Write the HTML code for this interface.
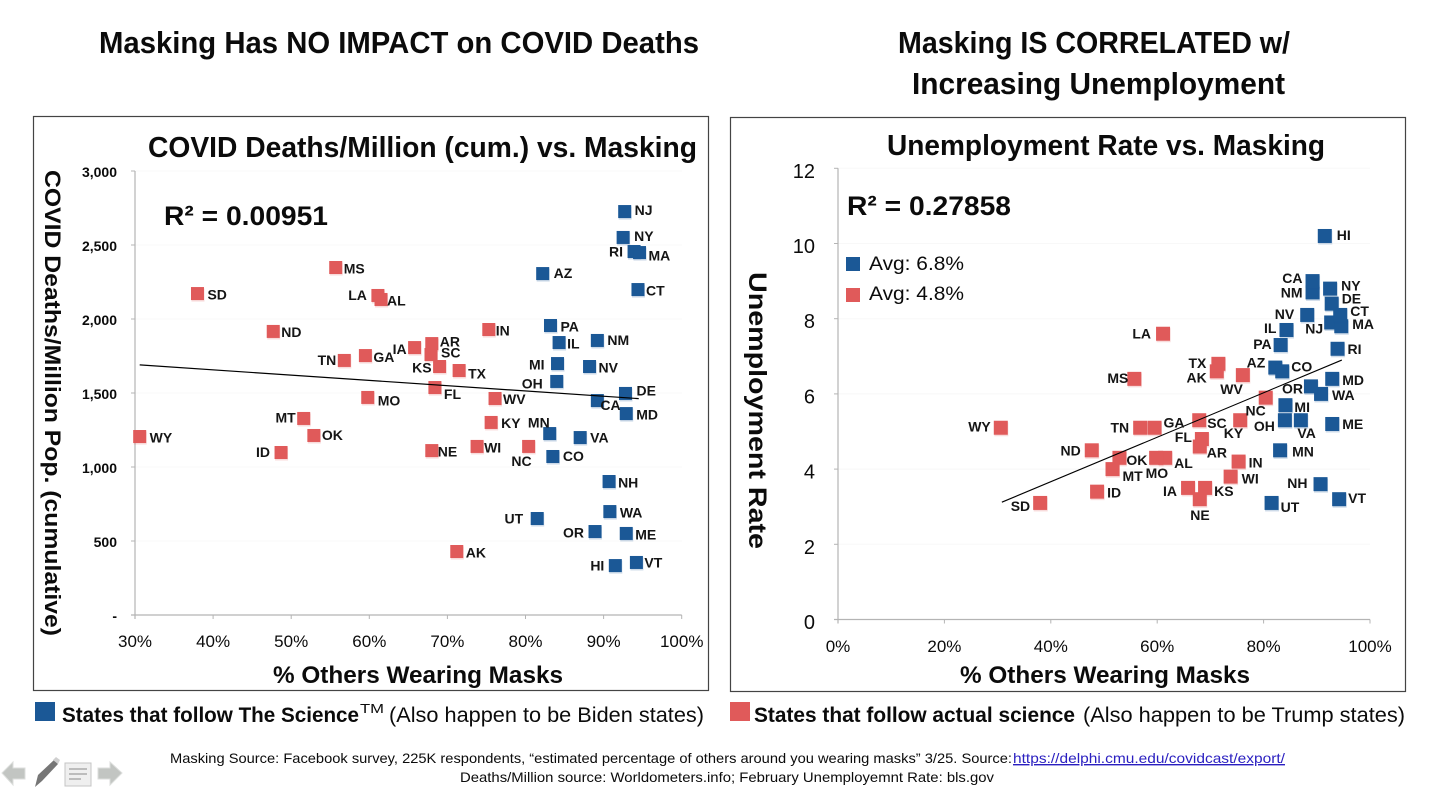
<!DOCTYPE html>
<html lang="en">
<head>
<meta charset="utf-8">
<title>Masking charts</title>
<style>
html,body{margin:0;padding:0;background:#fff;width:1434px;height:790px;overflow:hidden}
svg{display:block}
text{font-family:"Liberation Sans",Arial,sans-serif;fill:#0b0b0b}
.b{font-weight:bold}
.sl{font-weight:bold;font-size:14px;fill:#151515}
</style>
</head>
<body>
<svg id="root" xmlns="http://www.w3.org/2000/svg" width="1434" height="790" viewBox="0 0 1434 790">
  <rect x="0" y="0" width="1434" height="790" fill="#fff"/>

  <text class="b" x="99" y="53" font-size="31" textLength="600" lengthAdjust="spacingAndGlyphs">Masking Has NO IMPACT on COVID Deaths</text>
  <text class="b" x="898" y="53" font-size="31" textLength="392" lengthAdjust="spacingAndGlyphs">Masking IS CORRELATED w/</text>
  <text class="b" x="912" y="94" font-size="31" textLength="373" lengthAdjust="spacingAndGlyphs">Increasing Unemployment</text>

  <rect x="33.5" y="116.5" width="675" height="574" fill="#fff" stroke="#444" stroke-width="1.2"/>
  <rect x="730.5" y="117.5" width="675" height="574" fill="#fff" stroke="#444" stroke-width="1.2"/>

  <g id="left-grid"></g>
  <g id="right-grid"></g>
  <g id="left-axes"></g>
  <g id="right-axes"></g>

  <text class="b" x="148" y="157" font-size="29" textLength="549" lengthAdjust="spacingAndGlyphs">COVID Deaths/Million (cum.) vs. Masking</text>
  <text class="b" x="887" y="155" font-size="29" textLength="438" lengthAdjust="spacingAndGlyphs">Unemployment Rate vs. Masking</text>
  <text class="b" x="164" y="225" font-size="27" textLength="164" lengthAdjust="spacingAndGlyphs">R² = 0.00951</text>
  <text class="b" x="847" y="215" font-size="27" textLength="164" lengthAdjust="spacingAndGlyphs">R² = 0.27858</text>

  <text class="b" transform="translate(45,170) rotate(90)" font-size="22" textLength="466" lengthAdjust="spacingAndGlyphs">COVID Deaths/Million Pop. (cumulative)</text>
  <text class="b" transform="translate(749,272) rotate(90)" font-size="25" textLength="277" lengthAdjust="spacingAndGlyphs">Unemployment Rate</text>
  <text class="b" x="273" y="683" font-size="24" textLength="290" lengthAdjust="spacingAndGlyphs">% Others Wearing Masks</text>
  <text class="b" x="960" y="683" font-size="24" textLength="290" lengthAdjust="spacingAndGlyphs">% Others Wearing Masks</text>

  <g id="left-points"></g>
  <g id="right-points"></g>

  <g>
    <rect x="846" y="257" width="14" height="14" fill="#1b5896"/>
    <text x="869" y="270" font-size="19" textLength="95" lengthAdjust="spacingAndGlyphs">Avg: 6.8%</text>
    <rect x="846" y="288" width="14" height="14" fill="#e05a5a"/>
    <text x="869" y="300" font-size="19" textLength="95" lengthAdjust="spacingAndGlyphs">Avg: 4.8%</text>
  </g>

  <g>
    <rect x="35" y="702" width="20" height="19" fill="#1b5896"/>
    <text class="b" x="62" y="722" font-size="21" textLength="297" lengthAdjust="spacingAndGlyphs">States that follow The Science</text>
    <text x="360" y="713" font-size="13" textLength="24" lengthAdjust="spacingAndGlyphs">TM</text>
    <text x="389" y="722" font-size="21" textLength="315" lengthAdjust="spacingAndGlyphs">(Also happen to be Biden states)</text>
  </g>
  <g>
    <rect x="730" y="702" width="20" height="19" fill="#e05a5a"/>
    <text class="b" x="754" y="722" font-size="21" textLength="321" lengthAdjust="spacingAndGlyphs">States that follow actual science</text>
    <text x="1083" y="722" font-size="21" textLength="322" lengthAdjust="spacingAndGlyphs">(Also happen to be Trump states)</text>
  </g>

  <text x="170" y="763" font-size="14" textLength="842" lengthAdjust="spacingAndGlyphs" fill="#1a1a1a">Masking Source: Facebook survey, 225K respondents, “estimated percentage of others around you wearing masks”  3/25. Source:</text>
  <text x="1013" y="763" font-size="14" textLength="272" lengthAdjust="spacingAndGlyphs" style="fill:#2a1fc0;text-decoration:underline">https://delphi.cmu.edu/covidcast/export/</text>
  <text x="460" y="782" font-size="14" textLength="534" lengthAdjust="spacingAndGlyphs">Deaths/Million source: Worldometers.info; February Unemployemnt Rate: bls.gov</text>

  <g>
    <polygon points="2,773 13,762 13,768 25,768 25,779 13,779 13,785" fill="#c2c5c2" stroke="#dcdedc"/>
    <g>
      <polygon points="35,787 38,775 54,760 58,764 42,781" fill="#767676"/>
      <polygon points="53,760 56,757 60,760 58,764" fill="#cfcfcf"/>
    </g>
    <g>
      <rect x="65" y="763" width="26" height="23" fill="#efefef" stroke="#c4c4c4"/>
      <rect x="69" y="768" width="18" height="2" fill="#bcbcbc"/>
      <rect x="69" y="773" width="18" height="2" fill="#bcbcbc"/>
      <rect x="69" y="778" width="12" height="2" fill="#bcbcbc"/>
    </g>
    <polygon points="122,773 110,762 110,768 98,768 98,779 110,779 110,785" fill="#c2c5c2" stroke="#dcdedc"/>
  </g>
</svg>
<script>
// ---- data ----
const blueStates = ["NJ","NY","RI","MA","AZ","CT","PA","IL","NM","MI","NV","OH","DE","CA","MD","MN","VA","CO","NH","WA","UT","OR","ME","VT","HI"];
const blueMasks = [92.7,92.5,93.9,94.6,82.2,94.4,83.2,84.3,89.2,84.1,88.2,84.0,92.8,89.2,92.9,83.1,87.0,83.5,90.7,90.8,81.5,88.9,92.9,94.2,91.5];
const blueDeaths = [2726,2551,2456,2449,2307,2199,1956,1841,1855,1699,1679,1578,1497,1449,1361,1226,1199,1071,902,699,652,564,551,355,334];
const blueUnemployment = [7.9,8.8,7.2,7.8,6.7,8.1,7.3,7.7,8.7,5.7,8.1,5.3,8.4,9.0,6.4,4.5,5.3,6.6,3.6,6.0,3.1,6.2,5.2,3.2,10.2];

const redStates = ["SD","MS","LA","AL","ND","IN","AR","SC","IA","GA","TN","KS","TX","FL","MO","WV","KY","MT","WY","OK","NE","WI","NC","ID","AK"];
const redMasks = [38.0,55.7,61.1,61.5,47.7,75.3,68.0,67.9,65.8,59.5,56.8,69.0,71.5,68.4,59.8,76.1,75.6,51.6,30.6,52.9,68.0,73.8,80.4,48.7,71.2];
const redDeaths = [2172,2348,2159,2132,1916,1929,1834,1760,1807,1753,1720,1679,1652,1537,1470,1463,1301,1328,1206,1213,1111,1139,1139,1098,429];
const redUnemployment = [3.1,6.4,7.6,4.3,4.5,4.2,4.6,5.3,3.5,5.1,5.1,3.5,6.8,4.8,4.3,6.5,5.3,4.0,5.1,4.3,3.2,3.8,5.9,3.4,6.6];

const leftXTicks = [30,40,50,60,70,80,90,100];
const leftYTicks = [0,500,1000,1500,2000,2500,3000];
const leftYTickLabels = ["-","500","1,000","1,500","2,000","2,500","3,000"];
const rightXTicks = [0,20,40,60,80,100];
const rightYTicks = [0,2,4,6,8,10,12];

const leftTrendMasks = [30.6,94.5];
const leftTrendDeaths = [1690,1462];
const rightTrendMasks = [30.8,94.7];
const rightTrendRates = [3.12,6.9];

// ---- axis functions ----
const xLeft = p => 135 + (p - 30) * 7.81;
const yLeft = v => 615 - v * 0.148;
const xRight = p => 838 + p * 5.32;
const yRight = v => 619.5 - v * 37.6;

// ---- label placement relative to each marker: dx, dy, optional end anchor ----
const leftPlace = {NJ:[10,3.5],NY:[11,3.5],RI:[-11,5,1],MA:[9,8],AZ:[11,4.5],CT:[8,6],PA:[10,6],IL:[8,6],NM:[10,4.5],MI:[-13,6,1],NV:[9,6],OH:[-14,7,1],DE:[11,2],CA:[3,9.5],MD:[10,6],MN:[0,-6,1],VA:[10,5],CO:[10,4.5],NH:[9,6],WA:[10,6],UT:[-14,5,1],OR:[-11,6,1],ME:[9,6],VT:[8,5],HI:[-11,5,1],
SD:[10,6],MS:[8,6],LA:[-11,4.5,1],AL:[6,6],ND:[8,5.5],IN:[7,6],AR:[8,3],SC:[10,3],IA:[-8,6.5,1],GA:[8,6.5],TN:[-8,4.5,1],KS:[-8,6,1],TX:[9,8],FL:[9,11.5],MO:[10,8],WV:[8,5.5],KY:[10,5.5],MT:[-8,4,1],WY:[10,6],OK:[8,4.5],NE:[6,6],WI:[7,6],NC:[3,19.5,1],ID:[-11,4.5,1],AK:[9,6]};
const rightPlace = {HI:[12,4],CA:[-10,2,1],NM:[-10,5,1],NY:[11,2],DE:[10,0],CT:[10,1],NV:[-13,4,1],NJ:[-8,11,1],MA:[11,3],IL:[-10,3,1],PA:[-9,4,1],RI:[10,5],AZ:[-10,0,1],CO:[9,0],MD:[10,6],OR:[-8,7,1],WA:[11,6],MI:[9,7],OH:[-10,11,1],VA:[15,18,1],ME:[10,5],MN:[12,6],NH:[-13,4,1],VT:[9,4],UT:[9,9],
LA:[-12,5,1],TX:[-12,4,1],AK:[-10,11,1],WV:[0,19,1],MS:[-6,4,1],NC:[0,18,1],SC:[8,8],KY:[3,18,1],TN:[-11,5,1],GA:[9,0],WY:[-10,4,1],FL:[-10,3,1],AR:[7,11],ND:[-11,5,1],OK:[7,7],MO:[12,20,1],AL:[9,10],IN:[10,6],MT:[10,12],WI:[11,7],IA:[-11,8,1],KS:[9,8],ID:[10,6],NE:[10,21,1],SD:[-10,8,1]};

const NS = "http://www.w3.org/2000/svg";
function make(tag, parent, attrs, txt) {
  const el = document.createElementNS(NS, tag);
  for (const k in attrs) el.setAttribute(k, attrs[k]);
  if (txt !== undefined) el.textContent = txt;
  parent.appendChild(el);
  return el;
}
const AXIS = "#b4b4b4", GRID = "#f8f8f8", BLUE = "#1b5896", RED = "#e05a5a";

function drawAxes(opts) {
  const grid = document.getElementById(opts.gridId);
  const axes = document.getElementById(opts.axesId);
  const y0 = opts.y(0), yTop = opts.y(opts.yTicks[opts.yTicks.length - 1]);
  const x0 = opts.x(opts.xTicks[0]), x1 = opts.x(opts.xTicks[opts.xTicks.length - 1]);
  opts.yTicks.forEach((v, i) => {
    const py = opts.y(v);
    if (v !== 0) {
      const g = make("line", grid, {x1:x0,x2:x1,y1:py,y2:py,stroke:GRID});
      
      
    }
    const t = make("line", axes, {x1:x0-4,x2:x0,y1:py,y2:py,stroke:AXIS});
    
    
    const lab = make("text", axes, {x:opts.yLabelX,y:py+opts.yLabelDy,"text-anchor":"end","font-size":opts.yFont,"font-weight":opts.yWeight}, opts.yLabels ? opts.yLabels[i] : String(v));
    
    
  });
  opts.xTicks.forEach(v => {
    const px = opts.x(v);
    const t = make("line", axes, {x1:px,x2:px,y1:y0,y2:y0+4,stroke:AXIS});
    
    
    const lab = make("text", axes, {x:px,y:opts.xLabelY,"text-anchor":"middle","font-size":17}, v + "%");
    
    
  });
  const ya = make("line", axes, {x1:x0,x2:x0,y1:yTop,y2:y0+4,stroke:AXIS,"stroke-width":1.2});
  
  
  const xa = make("line", axes, {x1:x0-4,x2:x1,y1:y0,y2:y0,stroke:AXIS,"stroke-width":1.2});
  
  
}

function drawSeries(group, states, masks, values, color, x, y, size) {
  states.forEach((s, i) => {
    const px = x(masks[i]), py = y(values[i]);
    const shadow = make("rect", group, {x:px-size/2+0.5,y:py-size/2+1.5,width:size,height:size,fill:color,opacity:0.22});
    
    
    const m = make("rect", group, {x:px-size/2,y:py-size/2,width:size,height:size,fill:color});
    
    
  });
}

function drawLabels(group, states, masks, values, place, x, y) {
  states.forEach((s, i) => {
    const p = place[s];
    const attrs = {x:x(masks[i]) + p[0], y:y(values[i]) + p[1], class:"sl"};
    if (p[2]) attrs["text-anchor"] = "end";
    const t = make("text", group, attrs, s);
    
    
  });
}

drawAxes({gridId:"left-grid",axesId:"left-axes",x:xLeft,y:yLeft,xTicks:leftXTicks,yTicks:leftYTicks,yLabels:leftYTickLabels,yLabelX:117,yLabelDy:6,yFont:14,yWeight:"bold",xLabelY:647});
drawAxes({gridId:"right-grid",axesId:"right-axes",x:xRight,y:yRight,xTicks:rightXTicks,yTicks:rightYTicks,yLabels:null,yLabelX:815,yLabelDy:9.5,yFont:20,yWeight:"normal",xLabelY:652});

const lg = document.getElementById("left-points");
drawSeries(lg, blueStates, blueMasks, blueDeaths, BLUE, xLeft, yLeft, 13);
drawSeries(lg, redStates, redMasks, redDeaths, RED, xLeft, yLeft, 13);
const lTrend = make("line", lg, {x1:xLeft(leftTrendMasks[0]),y1:yLeft(leftTrendDeaths[0]),x2:xLeft(leftTrendMasks[1]),y2:yLeft(leftTrendDeaths[1]),stroke:"#000","stroke-width":1.2});


drawLabels(lg, blueStates, blueMasks, blueDeaths, leftPlace, xLeft, yLeft);
drawLabels(lg, redStates, redMasks, redDeaths, leftPlace, xLeft, yLeft);

const rg = document.getElementById("right-points");
drawSeries(rg, redStates, redMasks, redUnemployment, RED, xRight, yRight, 14);
drawSeries(rg, blueStates, blueMasks, blueUnemployment, BLUE, xRight, yRight, 14);
const rTrend = make("line", rg, {x1:xRight(rightTrendMasks[0]),y1:yRight(rightTrendRates[0]),x2:xRight(rightTrendMasks[1]),y2:yRight(rightTrendRates[1]),stroke:"#000","stroke-width":1.1});


drawLabels(rg, blueStates, blueMasks, blueUnemployment, rightPlace, xRight, yRight);
drawLabels(rg, redStates, redMasks, redUnemployment, rightPlace, xRight, yRight);
</script>
</body>
</html>
